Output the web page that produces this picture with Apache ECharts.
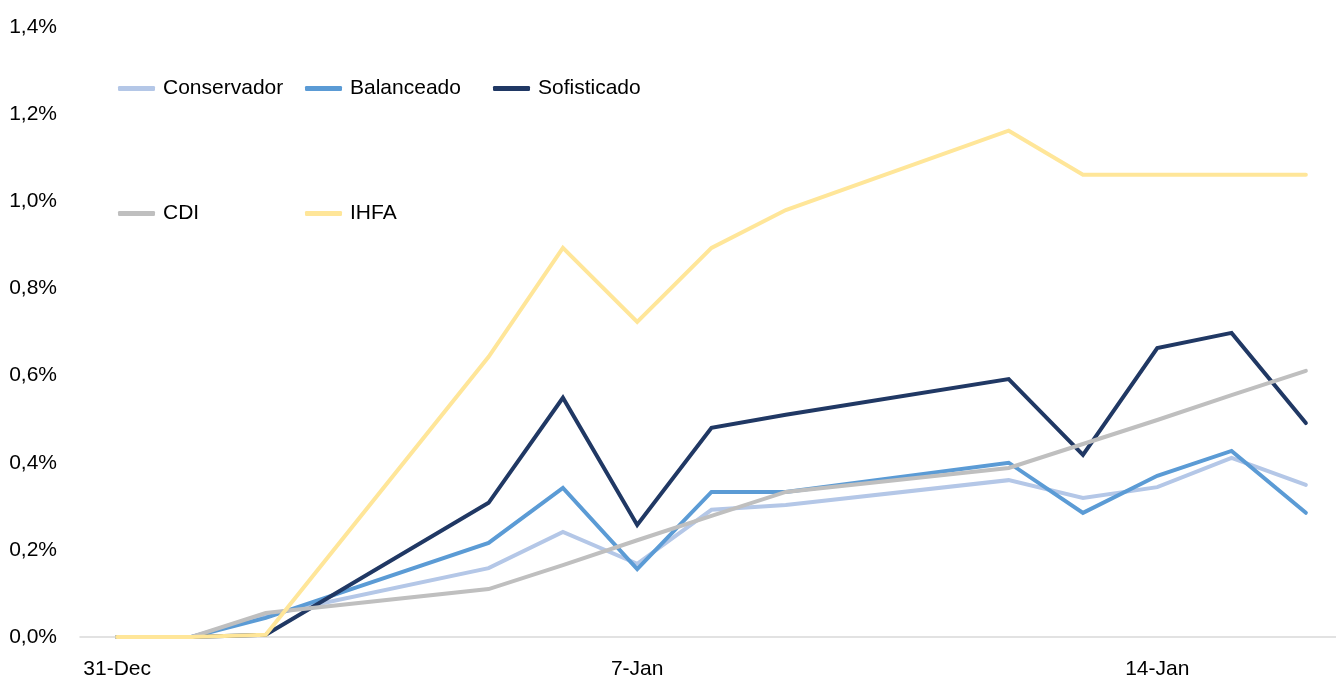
<!DOCTYPE html>
<html>
<head>
<meta charset="utf-8">
<script src="https://cdn.jsdelivr.net/npm/echarts@6/dist/echarts.min.js"></script>
<style>
  html, body { margin: 0; padding: 0; background: #fff; }
  #chart { width: 1336px; height: 678px; }
</style>
</head>
<body>
<div id="chart"></div>
<script>
// daily categories, weekends have no value (line is joined across them)
const days = ['31-Dec', '1-Jan', '2-Jan', '3-Jan', '4-Jan', '5-Jan', '6-Jan', '7-Jan', '8-Jan',
  '9-Jan', '10-Jan', '11-Jan', '12-Jan', '13-Jan', '14-Jan', '15-Jan', '16-Jan']

// values in %
const conservador = [0, 0, 0.05, null, null, 0.158, 0.241, 0.168, 0.292, 0.303, null, null, 0.36, 0.319, 0.344, 0.411, 0.349]
const balanceado = [0, 0, 0.044, null, null, 0.216, 0.342, 0.156, 0.333, 0.333, null, null, 0.4, 0.285, 0.37, 0.427, 0.285]
const sofisticado = [0, 0, 0.005, null, null, 0.308, 0.549, 0.257, 0.48, 0.51, null, null, 0.592, 0.418, 0.663, 0.698, 0.491]
const cdi = [0, 0, 0.055, null, null, 0.11, 0.165, 0.222, 0.278, 0.333, null, null, 0.388, 0.443, 0.498, 0.555, 0.611]
const ihfa = [0, 0, 0.005, null, null, 0.643, 0.893, 0.723, 0.893, 0.98, null, null, 1.162, 1.061, 1.061, 1.061, 1.061]

const FONT = "'Liberation Sans', Arial, sans-serif"

const chart = echarts.init(document.getElementById('chart'))

function legendAt(name, left, top) {
  return {
    data: [name],
    left: left,
    top: top,
    icon: 'roundRect',
    itemWidth: 37,
    itemHeight: 5,
    padding: 0,
    textStyle: { fontFamily: FONT, fontSize: 21, color: '#000', padding: [0, 0, 0, 3] }
  }
}

function line(name, data, color) {
  return {
    name: name,
    type: 'line',
    data: data,
    connectNulls: true,
    symbol: 'none',
    lineStyle: { color: color, width: 4, cap: 'round', join: 'miter' },
    itemStyle: { color: color }
  }
}

const option = {
  animation: false,
  legend: [
    legendAt('Conservador', 118, 78),
    legendAt('Balanceado', 305, 78),
    legendAt('Sofisticado', 493, 78),
    legendAt('CDI', 118, 203),
    legendAt('IHFA', 305, 203)
  ],
  // band width 74.3px, last band runs just past the right edge
  grid: { left: 80, right: -7, top: 27, bottom: 41, outerBoundsMode: 'none' },
  xAxis: {
    type: 'category',
    data: days,
    boundaryGap: true,
    axisLine: { lineStyle: { color: '#D9D9D9', width: 1.5 } },
    axisTick: { interval: 6, length: 8, lineStyle: { color: '#D9D9D9', width: 1.5 } },
    axisLabel: { interval: 6, margin: 22, fontFamily: FONT, fontSize: 21, color: '#000' },
    splitLine: { show: false }
  },
  yAxis: {
    type: 'value',
    min: 0,
    max: 1.4,
    interval: 0.2,
    axisLine: { show: false },
    axisTick: { show: false },
    splitLine: { show: false },
    axisLabel: {
      margin: 23,
      fontFamily: FONT,
      fontSize: 21,
      color: '#000',
      formatter: function (v) { return v.toFixed(1).replace('.', ',') + '%' }
    }
  },
  series: [
    line('Conservador', conservador, '#B4C7E7'),
    line('Balanceado', balanceado, '#5B9BD5'),
    line('Sofisticado', sofisticado, '#203864'),
    line('CDI', cdi, '#BFBFBF'),
    line('IHFA', ihfa, '#FFE699')
  ]
}

chart.setOption(option)
</script>
</body>
</html>
